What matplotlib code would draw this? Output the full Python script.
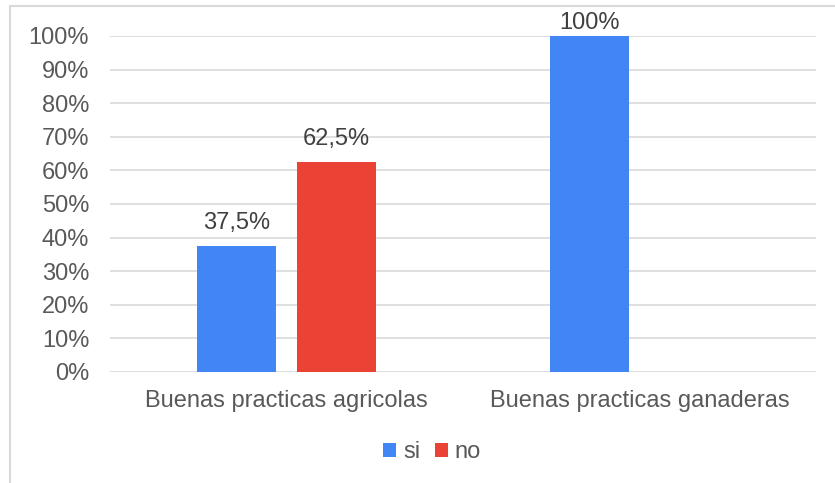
import numpy as np
import matplotlib.pyplot as plt
from matplotlib.patches import Rectangle

categories = ['Buenas practicas agricolas', 'Buenas practicas ganaderas']
series = ['si', 'no']
si_values = [37.5, 100]
no_values = [62.5, 0]
si_labels = ['37,5%', '100%']
no_labels = ['62,5%', '']
yticks = np.arange(0, 101, 10)

blue = '#4285F4'
red = '#EA4335'
grey = '#595959'
fs = 17

plt.rcParams['font.family'] = ['Liberation Sans', 'DejaVu Sans']

fig = plt.figure(figsize=(8.35, 4.83), dpi=100)
ax = fig.add_axes([110 / 835, 1 - 372 / 483, 706 / 835, 336 / 483])

x = np.arange(len(categories))
w = 0.224
off = 0.142
b1 = ax.bar(x - off, si_values, w, color=blue, label=series[0], zorder=3)
b2 = ax.bar(x + off, no_values, w, color=red, label=series[1], zorder=3)

for bars, labs in ((b1, si_labels), (b2, no_labels)):
    for b, lab in zip(bars, labs):
        if lab:
            h = b.get_height()
            # labels at the top of the plot area are pushed down (like Excel)
            dy = 9 if h < 95 else 1.5
            ax.annotate(lab, (b.get_x() + b.get_width() / 2, h),
                        xytext=(0, dy), textcoords='offset points',
                        ha='center', va='bottom', fontsize=fs, color='#404040')

ax.set_xlim(-0.5, 1.5)
ax.set_ylim(0, 100)
ax.set_yticks(yticks)
ax.set_yticklabels([f'{v}%' for v in yticks])
ax.set_xticks(x)
ax.set_xticklabels(categories)
ax.yaxis.grid(True, color='#d9d9d9', linewidth=1.2, zorder=0)
ax.set_axisbelow(True)
for s in ax.spines.values():
    s.set_visible(False)
ax.tick_params(axis='both', length=0, labelsize=fs, colors=grey)
ax.tick_params(axis='y', pad=15)
ax.tick_params(axis='x', pad=13)

ax.legend(loc='center', bbox_to_anchor=(432 / 835, 1 - 452 / 483),
          bbox_transform=fig.transFigure, ncol=2, frameon=False,
          fontsize=fs, labelcolor=grey, handlelength=0.55, handleheight=0.55,
          handletextpad=0.3, columnspacing=0.6)

fig.patches.append(Rectangle((10 / 835, -0.1), 1.1, (1 - 6 / 483) + 0.1,
                             transform=fig.transFigure, fill=False,
                             edgecolor='#d9d9d9', linewidth=1.5))

fig.savefig('out.png', dpi=100)
